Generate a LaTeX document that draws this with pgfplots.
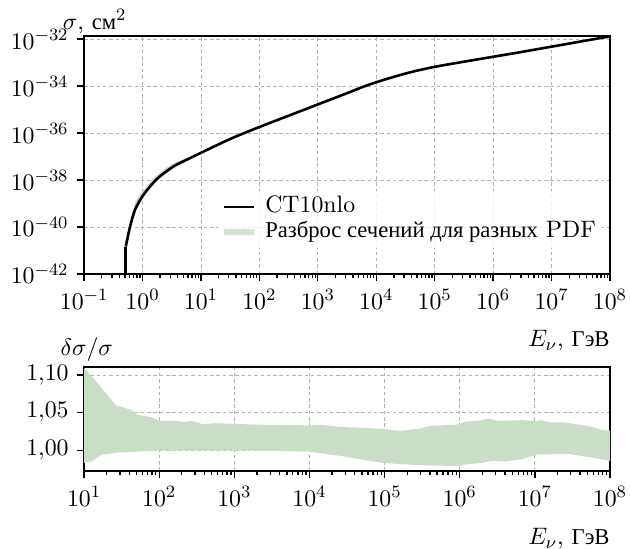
\documentclass[border=0pt]{standalone}
\usepackage{fontspec}
\newfontfamily\cyr[Scale=0.95]{Liberation Serif}
\usepackage{pgfplots}
\pgfplotsset{compat=1.18}
\usepgfplotslibrary{fillbetween}
\definecolor{band}{RGB}{201,221,199}

\pgfplotsset{
  sigpanel/.style={
    scale only axis, width=242pt,
    tick align=outside, tick pos=left,
    axis line style={line width=0.7pt},
    major tick length=3.3pt, minor tick length=1.9pt,
    every tick/.style={black, line width=0.6pt},
    grid=major,
    grid style={black!30, dash pattern=on 1.6pt off 1.3pt, line width=0.35pt},
  }
}

\begin{document}
\fontsize{10.95}{13}\selectfont
\begin{tikzpicture}
% upper panel: cross section
\begin{axis}[sigpanel, name=top, height=109.5pt,
  xmode=log, ymode=log, xmin=1e-1, xmax=1e8, ymin=1e-42, ymax=1.35e-32,
  xtick={1e-1,1,1e1,1e2,1e3,1e4,1e5,1e6,1e7,1e8},
  ytick={1e-42,1e-40,1e-38,1e-36,1e-34,1e-32},
  yminorticks=false, reverse legend,
  legend style={draw=none, fill=white, fill opacity=0.8, text opacity=1,
    at={(0.254,0.352)}, anchor=north west, legend cell align=left,
    inner sep=2pt, row sep=0.5pt,
    nodes={inner sep=0.5pt, text height=7.5pt, text depth=2.5pt}},
]
% upper edge of the PDF spread
\addplot[name path=bup, draw=none, smooth, tension=0.5, forget plot] coordinates {
(0.516,1.479e-41) (0.614,1.23e-40) (0.746,1.1e-39) (1.038,3.75e-39)
(1.758,1.64e-38) (3.388,5.13e-38) (6.31,8.98e-38) (10,1.445e-37)
(31.62,5.623e-37) (100,1.820e-36) (316.2,5.495e-36) (1000,1.660e-35)
(3162,5.012e-35) (6918,1.072e-34) (15849,2.089e-34) (39811,3.981e-34)
(1e5,6.607e-34) (316228,1.096e-33) (1e6,1.778e-33) (3.162e6,2.884e-33)
(1e7,4.786e-33) (3.162e7,7.943e-33) (1e8,1.318e-32)};
% CT10nlo cross section (path only, for the band)
\addplot[name path=sig, draw=none, smooth, tension=0.5, forget plot] coordinates {
(0.516,1.479e-41) (0.614,1.072e-40) (0.746,5.495e-40) (1.038,2.344e-39)
(1.758,1.096e-38) (3.388,3.802e-38) (6.31,8.318e-38) (10,1.445e-37)
(31.62,5.623e-37) (100,1.820e-36) (316.2,5.495e-36) (1000,1.660e-35)
(3162,5.012e-35) (6918,1.072e-34) (15849,2.089e-34) (39811,3.981e-34)
(1e5,6.607e-34) (316228,1.096e-33) (1e6,1.778e-33) (3.162e6,2.884e-33)
(1e7,4.786e-33) (3.162e7,7.943e-33) (1e8,1.318e-32)};
\addplot[fill=band, draw=none,
  legend image code/.code={\fill[band] (0pt,-1.6pt) rectangle (13.8pt,1.6pt);
    \path (18pt,0pt);}]
  fill between[of=bup and sig];
\addlegendentry{{\cyr Разброс сечений для разных} PDF}
\addplot[black, line width=1.2pt, forget plot] coordinates {
(0.516,1e-43) (0.516,1.479e-41)};
\addplot[black, line width=1.2pt, smooth, tension=0.5,
  legend image code/.code={\draw[black, line width=1.2pt] (0pt,0pt) -- (13.8pt,0pt);
    \path (18pt,0pt);}] coordinates {
(0.516,1.479e-41) (0.614,1.072e-40) (0.746,5.495e-40) (1.038,2.344e-39)
(1.758,1.096e-38) (3.388,3.802e-38) (6.31,8.318e-38) (10,1.445e-37)
(31.62,5.623e-37) (100,1.820e-36) (316.2,5.495e-36) (1000,1.660e-35)
(3162,5.012e-35) (6918,1.072e-34) (15849,2.089e-34) (39811,3.981e-34)
(1e5,6.607e-34) (316228,1.096e-33) (1e6,1.778e-33) (3.162e6,2.884e-33)
(1e7,4.786e-33) (3.162e7,7.943e-33) (1e8,1.318e-32)};
\addlegendentry{CT10nlo}
\end{axis}
\node[anchor=base west, inner sep=0] at ([xshift=-10pt, yshift=3pt]top.north west)
  {$\sigma$, {\cyr см}$^2$};
\node[anchor=north east, inner sep=0] at ([yshift=-25.8pt]top.south east)
  {$E_\nu$, {\cyr ГэВ}};

% lower panel: relative spread
\begin{axis}[sigpanel, name=bot, height=47.8pt,
  at={(0,-42.8pt)}, anchor=north west,
  xmode=log, xmin=10, xmax=1e8, ymin=0.9725, ymax=1.1106,
  xtick={1e1,1e2,1e3,1e4,1e5,1e6,1e7,1e8},
  ytick={1.00,1.05,1.10},
  yticklabel style={/pgf/number format/.cd, fixed, fixed zerofill, precision=2, use comma},
]
\addplot[name path=up, draw=none] coordinates {
(10,1.109) (14.1,1.093) (26.3,1.060) (42.7,1.0535) (51.3,1.047) (79.4,1.044)
(100,1.039) (166,1.039) (214,1.0376) (269,1.039) (389,1.0345) (562,1.036)
(1000,1.035) (2188,1.034) (4074,1.0336) (10000,1.033) (13800,1.0336)
(25700,1.031) (47900,1.030) (1e5,1.028) (1.62e5,1.0257) (2.09e5,1.027)
(3.02e5,1.029) (3.89e5,1.032) (5.62e5,1.033) (1e6,1.0345) (1.17e6,1.038)
(1.70e6,1.039) (2.45e6,1.042) (3.16e6,1.039) (6.61e6,1.040) (1.05e7,1.039)
(1.23e7,1.040) (1.55e7,1.037) (2.24e7,1.037) (2.88e7,1.036) (5.37e7,1.032)
(7.76e7,1.027) (1e8,1.026)};
\addplot[name path=lo, draw=none] coordinates {
(10,0.983) (12.5,0.985) (17,0.994) (29.5,0.997) (100,0.9996) (1000,0.9996)
(4074,0.999) (10000,0.998) (25700,0.9925) (61700,0.986) (1e5,0.983)
(3.02e5,0.980) (1e6,0.979) (1.17e6,0.981) (1.91e6,0.983) (2.75e6,0.986)
(3.98e6,0.985) (6.61e6,0.988) (1.05e7,0.994) (1.78e7,0.995) (2.88e7,0.995)
(5.37e7,0.9907) (1e8,0.986)};
\addplot[fill=band, draw=none] fill between[of=up and lo];
\end{axis}
\node[anchor=base west, inner sep=0] at ([xshift=-11pt, yshift=5.5pt]bot.north west)
  {$\delta\sigma/\sigma$};
\node[anchor=north east, inner sep=0] at ([yshift=-26.3pt]bot.south east)
  {$E_\nu$, {\cyr ГэВ}};
% page frame with the reference's margins
\pgfresetboundingbox
\useasboundingbox (-38.7pt,-126.5pt) rectangle (251.2pt,126.1pt);
\end{tikzpicture}
\end{document}
